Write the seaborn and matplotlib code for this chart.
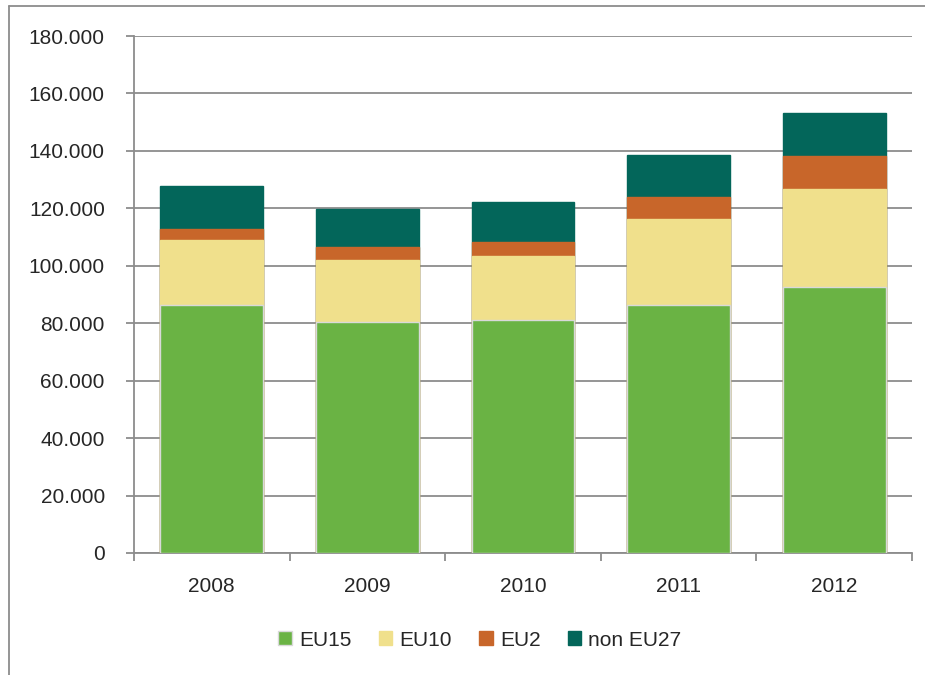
import numpy as np
import pandas as pd
import seaborn as sns
import matplotlib.pyplot as plt
from matplotlib.ticker import FuncFormatter, FixedLocator
from matplotlib.patches import Patch

# data
years = ['2008', '2009', '2010', '2011', '2012']
eu15 = [86300, 80300, 81000, 86300, 92600]
eu10 = [22600, 21800, 22500, 29900, 34200]
eu2 = [3900, 4400, 4900, 7600, 11300]
non_eu27 = [15000, 13300, 13700, 14900, 15100]

series_names = ['EU15', 'EU10', 'EU2', 'non EU27']
colors = ['#6AB344', '#F0E08C', '#C8662A', '#03665A']

sns.set_style("white")
plt.rcParams['font.family'] = ['Liberation Sans', 'DejaVu Sans']

df = pd.DataFrame({'Year': years, 'EU15': eu15, 'EU10': eu10,
                   'EU2': eu2, 'non EU27': non_eu27})
cum = df[series_names].cumsum(axis=1)

fig = plt.figure(figsize=(9.25, 6.75), dpi=100)
ax = fig.add_axes([134 / 925, 1 - 553 / 675, (912 - 134) / 925, (553 - 36) / 675])

# stacked bars: draw cumulative totals from the top layer down
for name, color in reversed(list(zip(series_names, colors))):
    edge = '#D9D9D9' if name == 'EU15' else color
    sns.barplot(x=df['Year'], y=cum[name], color=color, width=0.66,
                edgecolor=edge, linewidth=1.0, saturation=1, ax=ax, zorder=3)

ax.set_ylim(0, 180000)
ax.set_xlim(-0.5, 4.5)
ax.set_yticks(np.arange(0, 180001, 20000))
ax.yaxis.set_major_formatter(FuncFormatter(lambda v, p: f'{int(v):,}'.replace(',', '.')))
ax.yaxis.grid(True, color='#8C8C8C', linewidth=1.3, zorder=0)
ax.set_axisbelow(True)
ax.set_xlabel('')
ax.set_ylabel('')

for s in ['top', 'right']:
    ax.spines[s].set_visible(False)
for s in ['left', 'bottom']:
    ax.spines[s].set_color('#8C8C8C')
    ax.spines[s].set_linewidth(1.3)

ax.tick_params(axis='y', which='major', direction='out', length=6, width=1.3,
               color='#8C8C8C', labelsize=15, pad=15, left=True)
ax.tick_params(axis='x', which='major', length=0, labelsize=15, pad=17)
ax.xaxis.set_minor_locator(FixedLocator(np.arange(-0.5, 4.6, 1)))
ax.tick_params(axis='x', which='minor', direction='out', length=6, width=1.3,
               color='#8C8C8C', bottom=True)

handles = [Patch(facecolor=c, edgecolor='#D9D9D9' if n == 'EU15' else c, label=n)
           for n, c in zip(series_names, colors)]
fig.legend(handles=handles, loc='center', bbox_to_anchor=(480 / 925, 1 - 640 / 675),
           ncol=4, frameon=False, fontsize=15, handlelength=0.65, handleheight=0.65,
           handletextpad=0.35, columnspacing=1.3)

# outer chart frame (partially visible)
fig.add_artist(plt.Line2D([9 / 925, 9 / 925], [0, 1 - 6 / 675], color='#8C8C8C', linewidth=1.3))
fig.add_artist(plt.Line2D([9 / 925, 1], [1 - 6 / 675, 1 - 6 / 675], color='#8C8C8C', linewidth=1.3))

plt.savefig('out.png', dpi=100)
